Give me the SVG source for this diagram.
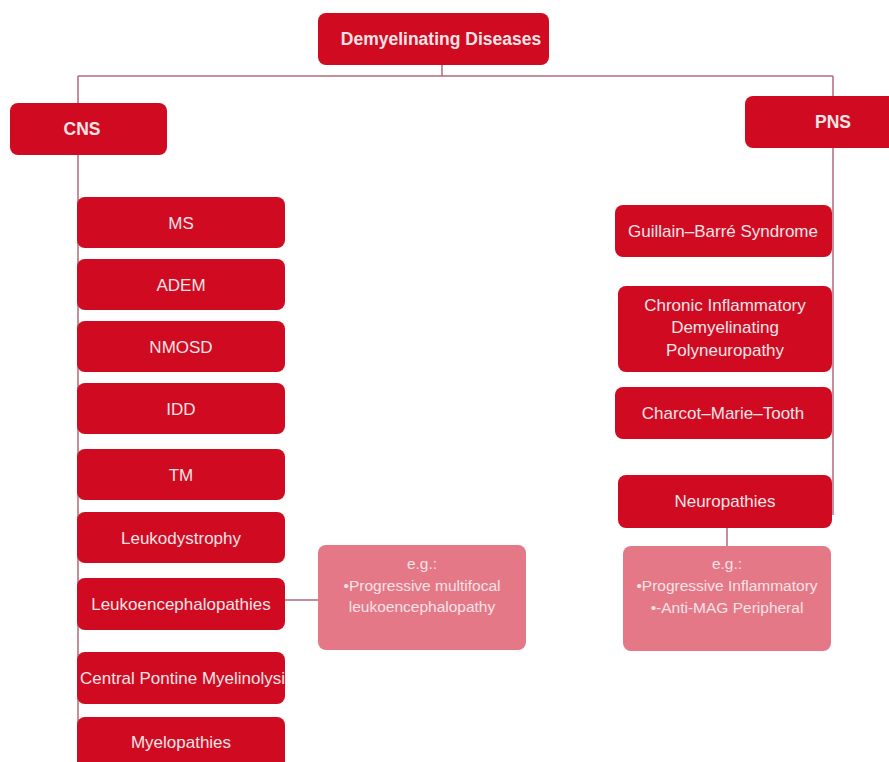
<svg xmlns="http://www.w3.org/2000/svg" width="889" height="762" viewBox="0 0 889 762">
<defs>
<style>
.n{fill:#cf0a21}
.p{fill:#e47887}
.t{font-family:"Liberation Sans",Arial,sans-serif;font-size:17px;fill:#f6e3e6;text-anchor:middle}
.b{font-weight:bold;font-size:17.5px}
.s{font-family:"Liberation Sans",Arial,sans-serif;font-size:15.5px;fill:#f8e2e6;text-anchor:middle}
.c{stroke:#b06878;stroke-width:1.5;fill:none}
</style>
<clipPath id="cpm"><rect x="77" y="652" width="208" height="52" rx="8"/></clipPath>
</defs>
<rect width="889" height="762" fill="#ffffff"/>
<g id="connectors">
<line class="c" x1="442" y1="65" x2="442" y2="76"/>
<line class="c" x1="78" y1="76" x2="833" y2="76"/>
<line class="c" x1="78" y1="76" x2="78" y2="762"/>
<line class="c" x1="833" y1="76" x2="833" y2="515"/>
<line class="c" x1="285" y1="600" x2="318" y2="600"/>
<line class="c" x1="727" y1="528" x2="727" y2="546"/>
</g>
<g id="root"><rect class="n" x="318" y="13" width="231" height="52" rx="8"/><text class="t b" x="441" y="45">Demyelinating Diseases</text></g>
<g id="cns"><rect class="n" x="10" y="103" width="157" height="52" rx="8"/><text class="t b" x="82" y="135">CNS</text></g>
<g id="pns"><rect class="n" x="745" y="96" width="160" height="52" rx="8"/><text class="t b" x="833" y="128">PNS</text></g>
<g id="ms"><rect class="n" x="77" y="197" width="208" height="51" rx="8"/><text class="t" x="181" y="228.5">MS</text></g>
<g id="adem"><rect class="n" x="77" y="259" width="208" height="51" rx="8"/><text class="t" x="181" y="290.5">ADEM</text></g>
<g id="nmosd"><rect class="n" x="77" y="321" width="208" height="51" rx="8"/><text class="t" x="181" y="352.5">NMOSD</text></g>
<g id="idd"><rect class="n" x="77" y="383" width="208" height="51" rx="8"/><text class="t" x="181" y="414.5">IDD</text></g>
<g id="tm"><rect class="n" x="77" y="449" width="208" height="51" rx="8"/><text class="t" x="181" y="480.5">TM</text></g>
<g id="leukodystrophy"><rect class="n" x="77" y="512" width="208" height="51" rx="8"/><text class="t" x="181" y="543.5">Leukodystrophy</text></g>
<g id="leukoencephalopathies"><rect class="n" x="77" y="578" width="208" height="52" rx="8"/><text class="t" x="181" y="610">Leukoencephalopathies</text></g>
<g id="cpm-node"><rect class="n" x="77" y="652" width="208" height="52" rx="8"/><text class="t" x="80" y="684" style="text-anchor:start" clip-path="url(#cpm)">Central Pontine Myelinolysis</text></g>
<g id="myelopathies"><rect class="n" x="77" y="717" width="208" height="56" rx="8"/><text class="t" x="181" y="748">Myelopathies</text></g>
<g id="eg1"><rect class="p" x="318" y="545" width="208" height="105" rx="8"/><text class="s" x="422" y="569">e.g.:</text><text class="s" x="422" y="590.5">•Progressive multifocal</text><text class="s" x="422" y="612">leukoencephalopathy</text></g>
<g id="gbs"><rect class="n" x="615" y="205" width="217" height="52" rx="8"/><text class="t" x="723" y="237">Guillain–Barré Syndrome</text></g>
<g id="cidp"><rect class="n" x="618" y="286" width="214" height="86" rx="8"/><text class="t" x="725" y="311">Chronic Inflammatory</text><text class="t" x="725" y="333">Demyelinating</text><text class="t" x="725" y="356">Polyneuropathy</text></g>
<g id="cmt"><rect class="n" x="615" y="387" width="217" height="52" rx="8"/><text class="t" x="723" y="419">Charcot–Marie–Tooth</text></g>
<g id="neuropathies"><rect class="n" x="618" y="475" width="214" height="53" rx="8"/><text class="t" x="725" y="507">Neuropathies</text></g>
<g id="eg2"><rect class="p" x="623" y="546" width="208" height="105" rx="8"/><text class="s" x="727" y="569">e.g.:</text><text class="s" x="727" y="591">•Progressive Inflammatory</text><text class="s" x="727" y="613">•-Anti-MAG Peripheral</text></g>
</svg>
